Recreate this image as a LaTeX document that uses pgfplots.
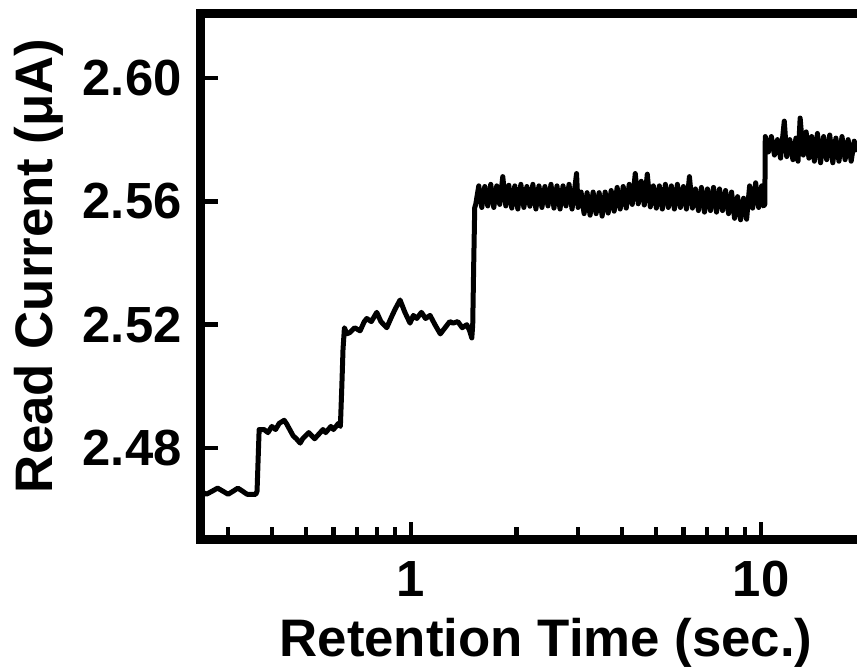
\documentclass[border=0pt]{standalone}
\usepackage{fontspec}
\setmainfont{Liberation Sans}
\usepackage{pgfplots}
\pgfplotsset{compat=1.18}
\begin{document}
\begin{tikzpicture}
\begin{axis}[
  xmode=log,
  scale only axis,
  width=328bp, height=262.75bp,
  xmin=0.251, xmax=18.8,
  ymin=2.4505, ymax=2.6209,
  axis x line*=box, axis y line*=left,
  axis line style={line width=4.5bp, line cap=rect},
  xtick={1,10}, xticklabels={1,10},
  minor xtick={0.3,0.4,0.5,0.6,0.7,0.8,0.9,2,3,4,5,6,7,8,9},
  xtick pos=bottom,
  ytick={2.48,2.52,2.56,2.60},
  minor ytick={},
  tick align=inside,
  major tick length=8.5bp, minor tick length=6bp,
  every tick/.style={black, line width=2.2bp},
  /pgf/number format/assume math mode=true,
  ticklabel style={font=\fontsize{25.5}{28}\selectfont\bfseries, inner sep=0pt},
  yticklabel style={/pgf/number format/.cd, fixed, fixed zerofill, precision=2, /tikz/.cd, anchor=east, xshift=-9.5bp},
  xticklabel style={anchor=north, yshift=-11bp},
  xlabel={Retention Time (sec.)},
  ylabel={Read Current (μA)},
  label style={font=\fontsize{26.5}{30}\selectfont\bfseries, inner sep=0pt},
  xlabel style={at={(axis description cs:0.526,0)}, anchor=base, yshift=-58.5bp},
  ylabel style={at={(axis description cs:-0.2256,0.520)}, anchor=base},
  clip=true,
]
\addplot[black, line width=2.5bp, line join=round] coordinates {
(0.251,2.466) (0.26,2.465) (0.27,2.466) (0.28,2.467) (0.29,2.466) (0.30,2.465) (0.31,2.466) (0.32,2.467) (0.33,2.466) (0.34,2.465) (0.35,2.465) (0.36,2.465) (0.363,2.466)
(0.366,2.478) (0.368,2.486)
(0.38,2.486) (0.39,2.485) (0.40,2.487) (0.41,2.486) (0.42,2.488) (0.434,2.489) (0.44,2.488) (0.45,2.486) (0.46,2.484) (0.47,2.483) (0.482,2.4816) (0.49,2.483) (0.50,2.484) (0.51,2.485) (0.52,2.484) (0.53,2.483) (0.54,2.484) (0.55,2.485) (0.56,2.486) (0.57,2.485) (0.58,2.486) (0.59,2.487) (0.60,2.486) (0.61,2.487) (0.62,2.488) (0.628,2.487)
(0.634,2.500) (0.639,2.512) (0.645,2.519)
(0.655,2.517) (0.669,2.5175) (0.69,2.519) (0.715,2.518) (0.735,2.521) (0.747,2.522) (0.77,2.521) (0.798,2.524) (0.82,2.521) (0.852,2.519) (0.875,2.522) (0.90,2.525) (0.93,2.528) (0.96,2.524) (0.993,2.5205) (1.015,2.523) (1.038,2.522) (1.07,2.524) (1.10,2.522) (1.133,2.523) (1.17,2.520) (1.212,2.517) (1.25,2.519) (1.29,2.521) (1.318,2.5205) (1.36,2.521) (1.40,2.519) (1.443,2.520) (1.47,2.518) (1.491,2.5157) (1.50,2.520)
(1.51,2.540) (1.52,2.558)
(1.530,2.5590) (1.561,2.5650) (1.592,2.5580) (1.624,2.5648) (1.656,2.5585) (1.689,2.5655) (1.723,2.5580) (1.757,2.5650) (1.792,2.5590) (1.828,2.5680) (1.865,2.5585) (1.902,2.5652) (1.940,2.5578) (1.979,2.5650) (2.018,2.5575) (2.059,2.5655) (2.100,2.5580) (2.142,2.5648) (2.185,2.5584) (2.228,2.5655) (2.273,2.5575) (2.319,2.5650) (2.365,2.5580) (2.412,2.5648) (2.461,2.5585) (2.510,2.5655) (2.560,2.5578) (2.611,2.5650) (2.664,2.5575) (2.717,2.5650) (2.771,2.5585) (2.827,2.5655) (2.883,2.5575) (2.941,2.5650) (2.970,2.5690) (3.000,2.5580)
(3.060,2.5630) (3.121,2.5560) (3.183,2.5628) (3.247,2.5555) (3.312,2.5630) (3.378,2.5560) (3.446,2.5628) (3.515,2.5552) (3.585,2.5630) (3.657,2.5562) (3.730,2.5635) (3.804,2.5568) (3.880,2.5645) (3.958,2.5575) (4.037,2.5648) (4.118,2.5578) (4.200,2.5655) (4.284,2.5590) (4.370,2.5690) (4.457,2.5592) (4.546,2.5665) (4.637,2.5588) (4.730,2.5688) (4.825,2.5582) (4.921,2.5650) (5.020,2.5578) (5.120,2.5650) (5.222,2.5575) (5.327,2.5655) (5.433,2.5580) (5.542,2.5650) (5.653,2.5575) (5.766,2.5655) (5.881,2.5580) (5.999,2.5648) (6.119,2.5575) (6.241,2.5680) (6.366,2.5578) (6.493,2.5640) (6.623,2.5570) (6.756,2.5645) (6.891,2.5565) (7.029,2.5640) (7.169,2.5570) (7.313,2.5645) (7.459,2.5565) (7.608,2.5640) (7.760,2.5570) (7.915,2.5635) (8.074,2.5560) (8.235,2.5630) (8.400,2.5545) (8.568,2.5615) (8.739,2.5540) (8.914,2.5610) (9.092,2.5542) (9.274,2.5650) (9.460,2.5578) (9.649,2.5660) (9.842,2.5580) (10.04,2.5650) (10.15,2.5585) (10.25,2.5590)
(10.28,2.5810) (10.49,2.5760) (10.70,2.5810) (10.92,2.5750) (11.14,2.5800) (11.37,2.5740) (11.65,2.5860) (11.84,2.5745) (12.08,2.5800) (12.33,2.5735) (12.58,2.5805) (12.75,2.5730) (12.93,2.5870) (13.20,2.5750) (13.45,2.5825) (13.70,2.5740) (13.95,2.5810) (14.20,2.5730) (14.49,2.5820) (14.79,2.5725) (15.09,2.5810) (15.40,2.5735) (15.71,2.5815) (16.03,2.5725) (16.36,2.5805) (16.69,2.5730) (17.03,2.5810) (17.38,2.5735) (17.73,2.5800) (18.09,2.5730) (18.46,2.5795) (18.8,2.5760)
};
\end{axis}
\pgfresetboundingbox
\path[use as bounding box] ([xshift=-100.5bp,yshift=-64.5bp]current axis.south west) rectangle ([yshift=6.75bp]current axis.north east);
\end{tikzpicture}
\end{document}
